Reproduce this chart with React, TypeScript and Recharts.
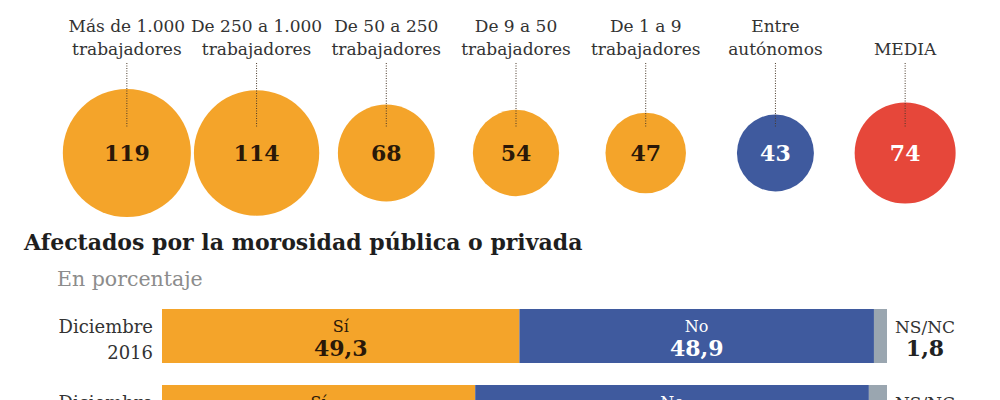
import {
  ScatterChart,
  Scatter,
  XAxis,
  YAxis,
  ZAxis,
  BarChart,
  Bar,
  LabelList,
} from "recharts";

// Plazo medio de pago (días) por tamaño de empresa
const groupsTop = ["Más de 1.000", "De 250 a 1.000", "De 50 a 250", "De 9 a 50", "De 1 a 9", "Entre", "MEDIA"];
const groupsBottom = ["trabajadores", "trabajadores", "trabajadores", "trabajadores", "trabajadores", "autónomos", ""];
const days = [119, 114, 68, 54, 47, 43, 74];

// Afectados por la morosidad (en porcentaje)
const periods = ["Diciembre 2016", "Diciembre 2015"];
const si = [49.3, 43.2];
const no = [48.9, 54.3];
const nsnc = [1.8, 2.5];

const ORANGE = "#f4a42a";
const BLUE = "#3f5a9e";
const RED = "#e6473a";
const GREY = "#9aa6b0";
const circleFill = [ORANGE, ORANGE, ORANGE, ORANGE, ORANGE, BLUE, RED];
const FONT = "'DejaVu Serif', serif";

const circleData = days.map((v, i) => ({
  name: `${groupsTop[i]}|${groupsBottom[i]}`,
  value: v,
  row: 0,
}));

const barData = periods.map((p, i) => ({
  period: p,
  si: si[i],
  no: no[i],
  nsnc: nsnc[i],
}));

const fmt = (v: number) => v.toFixed(1).replace(".", ",");

const TopTick = (props: any) => {
  const { x, payload } = props;
  const [a, b] = String(payload.value).split("|");
  const lines = b ? [a, b] : [a];
  const base = b ? 32 : 55;
  return (
    <g>
      {lines.map((t, i) => (
        <text key={i} x={x} y={base + i * 23} textAnchor="middle" fontFamily={FONT} fontSize={17} fill="#333">
          {t}
        </text>
      ))}
    </g>
  );
};

const Bubble = (props: any) => {
  const { cx, cy, size, payload } = props;
  const idx = days.indexOf(payload.value);
  const r = Math.sqrt(size / Math.PI);
  const fill = circleFill[idx];
  const light = fill !== ORANGE;
  return (
    <g>
      <circle cx={cx} cy={cy} r={r} fill={fill} />
      <line x1={cx} x2={cx} y1={cy - 90} y2={cy - 25} stroke="#4a3a2a" strokeWidth={1} strokeDasharray="1 1.5" />
      <text x={cx} y={cy + 8} textAnchor="middle" fontFamily={FONT} fontWeight="bold" fontSize={22} fill={light ? "#fff" : "#2a1808"}>
        {payload.value}
      </text>
    </g>
  );
};

const PeriodTick = (props: any) => {
  const { x, y, payload } = props;
  const [a, b] = String(payload.value).split(" ");
  return (
    <g>
      <text x={x} y={y - 3} textAnchor="end" fontFamily={FONT} fontSize={18} fill="#333">{a}</text>
      <text x={x} y={y + 23} textAnchor="end" fontFamily={FONT} fontSize={18} fill="#333">{b}</text>
    </g>
  );
};

const inside = (title: string, color: string) => (props: any) => {
  const { x, y, width, value } = props;
  const cx = x + width / 2;
  return (
    <g>
      <text x={cx} y={y + 23} textAnchor="middle" fontFamily={FONT} fontSize={16} fill={color}>{title}</text>
      <text x={cx} y={y + 47} textAnchor="middle" fontFamily={FONT} fontWeight="bold" fontSize={22} fill={color}>{fmt(value)}</text>
    </g>
  );
};

const outside = (props: any) => {
  const { x, y, width, value } = props;
  const cx = x + width + 38;
  return (
    <g>
      <text x={cx} y={y + 24} textAnchor="middle" fontFamily={FONT} fontSize={17} fill="#333">NS/NC</text>
      <text x={cx} y={y + 47} textAnchor="middle" fontFamily={FONT} fontWeight="bold" fontSize={22} fill="#222">{fmt(value)}</text>
    </g>
  );
};

export default function App() {
  return (
    <div style={{ position: "absolute", left: 0, top: 0, width: 1000, height: 400, overflow: "hidden", background: "#fff" }}>
      <div style={{ position: "absolute", left: 0, top: 0 }}>
        <ScatterChart width={1000} height={225} margin={{ top: 0, right: 30, bottom: 7, left: 62 }}>
          <XAxis type="category" dataKey="name" orientation="top" height={88} axisLine={false} tickLine={false} tick={<TopTick />} interval={0} allowDuplicatedCategory={false} />
          <YAxis type="number" dataKey="row" domain={[-1, 1]} hide />
          <ZAxis type="number" dataKey="value" domain={[0, 120]} range={[0, 12990]} />
          <Scatter data={circleData} shape={<Bubble />} isAnimationActive={false} />
        </ScatterChart>
      </div>

      <div style={{ position: "absolute", left: 24, top: 229, fontFamily: FONT, fontWeight: "bold", fontSize: 22, color: "#1e1e1e", whiteSpace: "nowrap" }}>
        Afectados por la morosidad pública o privada
      </div>
      <div style={{ position: "absolute", left: 57, top: 267, fontFamily: FONT, fontSize: 20.5, color: "#8c8c8c", whiteSpace: "nowrap" }}>
        En porcentaje
      </div>

      <div style={{ position: "absolute", left: 0, top: 298 }}>
        <BarChart width={1000} height={152} data={barData} layout="vertical" margin={{ top: 0, right: 113, bottom: 0, left: 0 }}>
          <XAxis type="number" domain={[0, 100]} hide />
          <YAxis type="category" dataKey="period" width={162} axisLine={false} tickLine={false} tickSize={0} tickMargin={9} tick={<PeriodTick />} />
          <Bar dataKey="si" stackId="a" fill={ORANGE} barSize={54} isAnimationActive={false}>
            <LabelList dataKey="si" content={inside("Sí", "#2a1808")} />
          </Bar>
          <Bar dataKey="no" stackId="a" fill={BLUE} barSize={54} isAnimationActive={false}>
            <LabelList dataKey="no" content={inside("No", "#fff")} />
          </Bar>
          <Bar dataKey="nsnc" stackId="a" fill={GREY} barSize={54} isAnimationActive={false}>
            <LabelList dataKey="nsnc" content={outside} />
          </Bar>
        </BarChart>
      </div>
    </div>
  );
}
